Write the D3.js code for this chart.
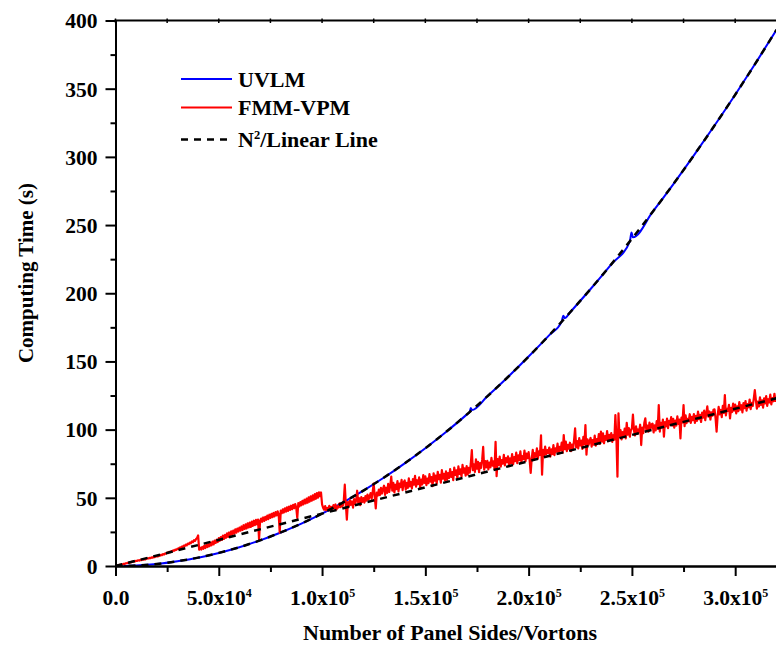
<!DOCTYPE html>
<html>
<head>
<meta charset="utf-8">
<script src="https://cdn.jsdelivr.net/npm/d3@7/dist/d3.min.js"></script>
<style>
  body { margin: 0; background: #fff; }
  svg { display: block; }
  text { font-family: "Liberation Serif", "Times New Roman", serif; font-weight: bold; fill: #000; }
</style>
</head>
<body>
<svg id="chart" width="776" height="649"></svg>
<script>
// ---- axis ticks ----
const xMajorTicks = [0, 50000, 100000, 150000, 200000, 250000, 300000];
const xMantissa   = ["0.0", "5.0", "1.0", "1.5", "2.0", "2.5", "3.0"];
const xExponent   = ["", "4", "5", "5", "5", "5", "5"];
const xMinorTicks = [25000, 75000, 125000, 175000, 225000, 275000];
const yMajorTicks = [0, 50, 100, 150, 200, 250, 300, 350, 400];
const yMinorTicks = [25, 75, 125, 175, 225, 275, 325, 375];

// ---- UVLM computing time (s) vs number of panel sides ----
const uvlmN = [4000, 10000, 20000, 30000, 40000, 50000, 60000, 70000, 80000, 90000,
  100000, 110000, 120000, 130000, 140000, 150000, 160000, 170000, 171500, 172000,
  172500, 180000, 190000, 200000, 210000, 216000, 216800, 217500, 220000, 230000,
  240000, 249000, 249800, 250500, 260000, 270000, 280000, 290000, 300000, 310000, 320000];
const uvlmTime = [0.06, 0.4, 1.5, 3.5, 6.1, 9.6, 13.8, 18.8, 24.6, 31.1,
  38.4, 46.5, 55.3, 64.9, 75.3, 86.4, 98.3, 111.0, 113.0, 115.8,
  114.3, 124.4, 138.6, 153.6, 169.3, 179.2, 183.5, 181.7, 185.9, 203.1,
  221.2, 238.1, 244.5, 241.0, 259.6, 279.9, 301.1, 323.0, 345.6, 369.0, 393.2];

// ---- FMM-VPM computing time (s), one sample every 500 vortons from 0 ----
const fmmStep = 500;
const fmmTime = [
  0, 0.2, 0.5, 0.5, 0.9, 0.8, 1.3, 1.2, 1.6, 1.5, 2.0, 2.0, 2.4, 2.3, 2.8, 2.7, 3.1, 3.2, 3.5, 3.4,
  3.8, 3.7, 4.2, 4.0, 4.5, 4.3, 4.8, 4.6, 5.1, 4.9, 5.4, 5.6, 5.5, 6.0, 5.8, 6.3, 6.1, 6.7, 6.5, 7.0,
  7.2, 7.0, 7.7, 7.5, 8.2, 8.0, 8.7, 8.4, 9.2, 9.0, 9.8, 9.5, 10.4, 10.1, 10.9, 10.6, 11.5, 11.2, 12.1, 11.8,
  12.7, 12.4, 13.5, 13.1, 14.2, 13.8, 14.9, 14.5, 15.7, 15.2, 16.4, 16.0, 17.2, 16.7, 18.0, 17.5, 18.9, 18.4, 19.8, 20.6,
  22.4, 11.9, 13.4, 12.1, 14.0, 12.6, 14.9, 13.2, 15.6, 13.9, 16.3, 14.5, 17.1, 15.2, 17.9, 15.8, 18.7, 16.9, 19.3, 17.6,
  20.4, 18.5, 21.2, 19.1, 22.3, 19.9, 22.8, 20.7, 23.9, 21.3, 24.6, 22.1, 25.4, 22.9, 26.0, 23.7, 26.9, 24.4, 27.5, 25.3,
  28.2, 25.9, 29.0, 26.4, 29.9, 27.2, 30.5, 27.6, 31.3, 28.3, 31.9, 28.6, 32.5, 29.4, 33.2, 30.0, 33.8, 30.6, 34.1, 19.5,
  33.1, 34.8, 32.4, 35.6, 33.0, 36.1, 33.9, 37.0, 34.4, 37.6, 35.2, 38.3, 35.8, 38.9, 36.4, 39.5, 37.1, 40.1, 37.8, 24.5,
  40.6, 38.7, 41.5, 39.2, 42.3, 39.8, 43.0, 40.4, 43.6, 41.1, 44.2, 41.6, 44.9, 42.3, 45.4, 42.8, 35.2, 46.2, 43.7, 46.9,
  44.5, 47.8, 45.2, 48.6, 45.9, 49.4, 46.4, 50.3, 47.2, 51.0, 47.9, 51.8, 48.6, 52.7, 49.3, 53.5, 50.1, 54.0, 51.2, 53.9,
  45.2, 42.8, 41.3, 43.9, 40.9, 42.6, 41.4, 44.1, 40.7, 43.3, 41.8, 44.6, 42.2, 45.1, 41.5, 43.8, 42.9, 46.0, 43.2, 45.4,
  44.1, 47.6, 59.6, 45.3, 33.9, 46.8, 43.5, 48.2, 44.9, 47.3, 42.8, 49.1, 45.6, 48.0, 55.2, 46.2, 49.7, 44.7, 50.5, 46.9,
  49.8, 46.5, 51.2, 47.9, 52.4, 48.6, 50.9, 53.5, 49.3, 54.2, 60.5, 50.7, 42.3, 53.8, 51.6, 56.1, 52.0, 57.3, 53.1, 56.6,
  58.9, 52.1, 57.4, 53.6, 60.2, 54.3, 58.8, 65.5, 55.2, 61.0, 53.9, 59.6, 56.4, 62.3, 54.7, 60.5, 57.8, 63.1, 55.6, 61.4,
  62.7, 56.0, 60.9, 57.3, 64.2, 58.4, 61.6, 56.9, 63.8, 59.7, 66.1, 58.2, 62.9, 60.1, 65.0, 57.5, 63.4, 59.8, 66.6, 61.0,
  65.8, 59.3, 64.1, 60.7, 67.4, 61.9, 65.2, 58.6, 68.0, 62.5, 66.3, 60.4, 69.1, 63.7, 66.8, 61.2, 70.3, 64.0, 67.5, 62.8,
  69.4, 63.1, 68.2, 64.6, 71.0, 65.3, 68.9, 62.9, 72.2, 66.8, 70.1, 64.3, 73.0, 67.5, 70.8, 65.6, 74.1, 68.4, 71.6, 66.2,
  73.2, 67.1, 71.9, 68.5, 75.0, 84.9, 70.3, 74.6, 69.0, 78.2, 71.4, 76.3, 68.8, 75.5, 72.0, 77.8, 87.3, 70.6, 76.9, 72.3,
  77.1, 70.9, 75.8, 72.4, 79.3, 73.6, 76.7, 71.2, 91.0, 65.8, 78.4, 74.1, 80.2, 72.9, 77.6, 75.0, 81.5, 73.8, 79.1, 76.2,
  80.4, 73.7, 78.9, 75.3, 82.0, 74.6, 79.8, 76.9, 83.2, 75.4, 81.1, 77.6, 84.0, 76.2, 80.5, 78.3, 84.7, 77.0, 82.4, 79.1,
  83.5, 77.4, 68.3, 79.0, 85.1, 78.2, 82.7, 80.1, 86.3, 78.9, 84.0, 81.5, 95.8, 66.9, 85.2, 80.4, 87.6, 81.9, 85.0, 82.7,
  86.9, 80.2, 85.5, 82.1, 88.6, 81.3, 86.2, 83.9, 89.7, 82.5, 87.4, 84.8, 90.5, 83.1, 96.0, 85.6, 91.2, 84.3, 88.9, 86.0,
  90.4, 84.2, 89.1, 85.7, 92.3, 101.0, 87.0, 91.6, 86.2, 93.8, 88.4, 92.0, 85.9, 94.7, 89.3, 103.4, 81.6, 92.9, 88.8, 91.5,
  93.9, 87.6, 92.4, 89.0, 95.6, 88.3, 93.1, 90.7, 96.8, 89.5, 98.5, 91.2, 97.3, 90.0, 95.2, 92.4, 99.0, 91.6, 96.1, 93.3,
  97.4, 91.0, 95.9, 92.6, 110.7, 93.8, 65.5, 112.0, 94.4, 99.6, 92.9, 98.2, 95.1, 100.7, 93.6, 105.0, 96.3, 101.2, 94.8, 99.5,
  100.9, 111.0, 99.3, 95.7, 102.4, 96.8, 100.1, 98.0, 103.6, 88.7, 101.5, 97.4, 104.8, 108.3, 99.2, 102.9, 98.5, 105.1, 100.4, 103.8,
  104.4, 97.9, 103.1, 99.5, 106.2, 100.7, 118.0, 98.6, 104.9, 101.8, 107.3, 94.8, 105.6, 102.4, 108.0, 101.1, 106.5, 103.7, 109.2, 102.9,
  107.9, 101.4, 106.6, 103.0, 109.7, 104.2, 107.4, 93.6, 108.8, 105.3, 118.0, 102.6, 110.5, 104.8, 107.9, 106.1, 111.3, 105.0, 109.4, 107.0,
  111.4, 104.9, 110.1, 106.5, 113.2, 107.7, 110.9, 105.6, 112.5, 108.8, 114.0, 106.9, 111.8, 117.0, 109.6, 113.3, 107.4, 112.7, 110.2, 114.6,
  114.9, 108.4, 98.5, 110.0, 116.7, 111.2, 114.4, 109.1, 117.5, 112.3, 125.4, 110.4, 115.3, 113.8, 118.2, 108.3, 116.0, 112.9, 119.1, 114.0,
  118.4, 111.9, 117.1, 113.5, 120.2, 114.7, 117.9, 112.6, 119.5, 115.8, 121.0, 113.9, 118.8, 116.4, 122.1, 115.0, 119.7, 117.3, 122.8, 129.0,
  121.9, 115.4, 120.6, 117.0, 123.7, 118.2, 121.4, 116.1, 123.0, 119.3, 124.5, 117.4, 122.3, 119.9, 125.6, 118.5, 123.2, 120.8, 126.3, 121.0,
  122.6
];

// ---- reference trends: N^2 fit for UVLM, linear fit for FMM-VPM ----
const quadN = [0, 10000, 20000, 30000, 40000, 50000, 60000, 70000, 80000, 90000,
  100000, 110000, 120000, 130000, 140000, 150000, 160000, 170000, 180000, 190000,
  200000, 210000, 220000, 230000, 240000, 250000, 260000, 270000, 280000, 290000,
  300000, 310000, 320000];
const quadTime = [0, 0.38, 1.54, 3.46, 6.14, 9.6, 13.8, 18.8, 24.6, 31.1,
  38.4, 46.5, 55.3, 64.9, 75.3, 86.4, 98.3, 111.0, 124.4, 138.6,
  153.6, 169.3, 185.9, 203.1, 221.2, 240.0, 259.6, 279.9, 301.1, 323.0,
  345.6, 369.0, 393.2];
const linN = [0, 320000];
const linTime = [0, 123];

// ---- legend ----
const legendLabels = ["UVLM", "FMM-VPM", "N²/Linear Line"];
const legendColors = ["#0000ff", "#ff0000", "#000000"];

// ---- layout ----
const svg = d3.select("#chart");
svg.append("rect").attr("width", 776).attr("height", 649).attr("fill", "#fff");

const plotLeft = 115.5, plotRight = 776.5, plotTop = 20.5, plotBottom = 566;
const x = d3.scaleLinear().domain([0, 320000]).range([plotLeft, plotRight]);
const y = d3.scaleLinear().domain([0, 400]).range([plotBottom, plotTop]);

svg.append("defs").append("clipPath").attr("id", "plotClip")
  .append("rect").attr("x", plotLeft).attr("y", plotTop - 2)
  .attr("width", plotRight - plotLeft).attr("height", plotBottom - plotTop + 2);

const plot = svg.append("g").attr("clip-path", "url(#plotClip)");

const smooth = d3.line().x(d => x(d[0])).y(d => y(d[1])).curve(d3.curveMonotoneX);
const straight = d3.line().x(d => x(d[0])).y(d => y(d[1]));

plot.append("path")
  .datum(uvlmN.map((n, i) => [n, uvlmTime[i]]))
  .attr("d", smooth).attr("fill", "none")
  .attr("stroke", legendColors[0]).attr("stroke-width", 2);

plot.append("path")
  .datum(fmmTime.map((t, i) => [i * fmmStep, t]))
  .attr("d", straight).attr("fill", "none")
  .attr("stroke", legendColors[1]).attr("stroke-width", 2.2)
  .attr("stroke-linejoin", "round");

plot.append("path")
  .datum(quadN.map((n, i) => [n, quadTime[i]]))
  .attr("d", smooth).attr("fill", "none")
  .attr("stroke", "#000").attr("stroke-width", 2.5)
  .attr("stroke-dasharray", "7,6");

plot.append("path")
  .datum(linN.map((n, i) => [n, linTime[i]]))
  .attr("d", straight).attr("fill", "none")
  .attr("stroke", "#000").attr("stroke-width", 2.5)
  .attr("stroke-dasharray", "7,6");

// ---- axes ----
function styleAxis(g) {
  g.attr("font-family", null).attr("font-size", null);
  g.selectAll("path.domain").attr("stroke", "#000").attr("stroke-width", 2);
  g.selectAll(".tick line").attr("stroke", "#000").attr("stroke-width", 2);
}

// bottom: minor then major
svg.append("g").attr("transform", `translate(0,${plotBottom})`)
  .call(d3.axisBottom(x).tickValues(xMinorTicks).tickSize(6).tickSizeOuter(0).tickFormat(""))
  .call(styleAxis);

const xAxis = svg.append("g").attr("transform", `translate(0,${plotBottom})`)
  .call(d3.axisBottom(x).tickValues(xMajorTicks).tickSize(10).tickSizeOuter(0).tickFormat(""))
  .call(styleAxis);

xAxis.selectAll(".tick text").each(function (d, i) {
  const t = d3.select(this)
    .attr("y", 39).attr("dy", 0).attr("fill", "#000")
    .attr("font-size", 21.5).attr("text-anchor", "middle");
  t.text(null);
  if (xExponent[i]) {
    t.append("tspan").text(xMantissa[i] + "x10");
    t.append("tspan").attr("dy", -8.5).attr("font-size", 12).text(xExponent[i]);
  } else {
    t.append("tspan").text(xMantissa[i]);
  }
});

// left: minor then major
svg.append("g").attr("transform", `translate(${plotLeft},0)`)
  .call(d3.axisLeft(y).tickValues(yMinorTicks).tickSize(5).tickSizeOuter(0).tickFormat(""))
  .call(styleAxis);

const yAxis = svg.append("g").attr("transform", `translate(${plotLeft},0)`)
  .call(d3.axisLeft(y).tickValues(yMajorTicks).tickSize(10).tickSizeOuter(0).tickFormat(d3.format("d")))
  .call(styleAxis);
yAxis.selectAll(".tick text")
  .attr("x", -18).attr("dy", "0.34em")
  .attr("font-size", 21.5).attr("fill", "#000");

// top frame with short ticks
const topAxis = svg.append("g").attr("transform", `translate(0,${plotTop})`);
topAxis.append("line").attr("x1", plotLeft - 1).attr("x2", plotRight)
  .attr("y1", 0).attr("y2", 0).attr("stroke", "#000").attr("stroke-width", 2);
topAxis.selectAll("line.tt").data(xMajorTicks.concat(xMinorTicks)).join("line")
  .attr("class", "tt")
  .attr("x1", d => x(d)).attr("x2", d => x(d))
  .attr("y1", -2).attr("y2", 2.5).attr("stroke", "#000").attr("stroke-width", 1.5);

// ---- axis titles ----
svg.append("text")
  .attr("x", 450).attr("y", 640)
  .attr("text-anchor", "middle").attr("font-size", 22)
  .text("Number of Panel Sides/Vortons");

svg.append("text")
  .attr("transform", "translate(33,273) rotate(-90)")
  .attr("text-anchor", "middle").attr("font-size", 21)
  .text("Computing Time (s)");

// ---- legend ----
const legendRowsY = [79, 107.5, 139.5];
const legendTextY = [86.5, 114.5, 146.5];
const legend = svg.append("g");
legendLabels.forEach((lab, i) => {
  legend.append("line")
    .attr("x1", 181).attr("x2", 232)
    .attr("y1", legendRowsY[i]).attr("y2", legendRowsY[i])
    .attr("stroke", legendColors[i])
    .attr("stroke-width", i === 2 ? 2.5 : 2)
    .attr("stroke-dasharray", i === 2 ? "7,6" : null);
  const t = legend.append("text")
    .attr("x", 238).attr("y", legendTextY[i]).attr("font-size", 22);
  if (i === 2) {
    t.append("tspan").text("N");
    t.append("tspan").attr("dy", -8).attr("font-size", 12.5).text("2");
    t.append("tspan").attr("dy", 8).text("/Linear Line");
  } else {
    t.text(lab);
  }
});
</script>
</body>
</html>
